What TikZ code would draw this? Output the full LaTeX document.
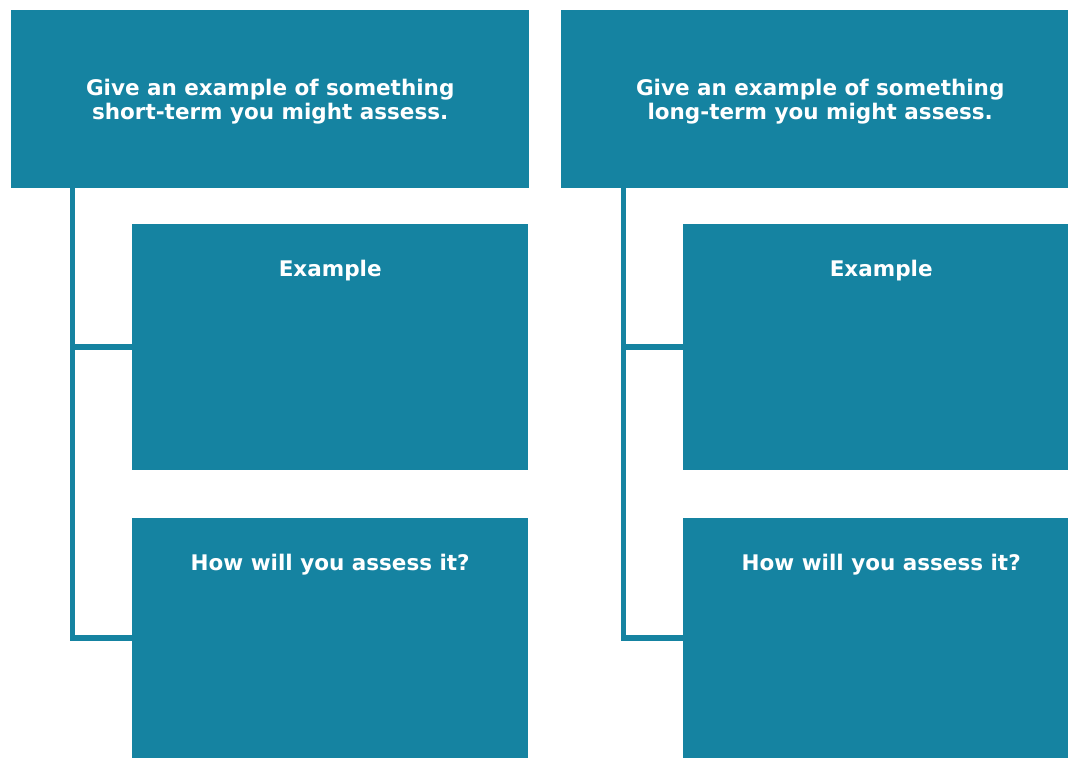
\documentclass[tikz,border=0pt]{standalone}
\usepackage{fontspec}
\setmainfont{DejaVu Sans}
\definecolor{tealblue}{RGB}{21,131,161}
\begin{document}
\begin{tikzpicture}[x=1pt,y=-1pt,
  box/.style={fill=tealblue, inner sep=0pt, anchor=north west, text=white,
    font=\fontsize{21.5}{24}\selectfont\bfseries, align=center},
  topbox/.style={box, minimum width=518pt, minimum height=178pt},
  subbox/.style={box, minimum width=396pt},
  boxtitle/.style={below, text=white, font=\fontsize{21.5}{24}\selectfont\bfseries, inner sep=0pt},
  link/.style={draw=tealblue, line width=5.5pt}]
\useasboundingbox (0,0) rectangle (1068,759);
\clip (0,0) rectangle (1068,759);
% short-term column
\node[topbox, text depth=-6pt] (lTop) at (11,10) {Give an example of something\\short-term you might assess.};
\node[subbox, minimum height=246pt] (lEx) at (132,224) {};
\node[subbox, minimum height=240pt] (lHow) at (132,518) {};
\node[boxtitle] (lExT) at ([yshift=-36]lEx.north) {Example};
\node[boxtitle] (lHowT) at ([yshift=-36]lHow.north) {How will you assess it?};
\draw[link] ([xshift=61.5]lTop.south west) |- (lEx.west);
\draw[link] ([xshift=61.5]lTop.south west) |- (lHow.west);
% long-term column
\node[topbox, text depth=-6pt] (rTop) at (561,10) {Give an example of something\\long-term you might assess.};
\node[subbox, minimum height=246pt] (rEx) at (683,224) {};
\node[subbox, minimum height=240pt] (rHow) at (683,518) {};
\node[boxtitle] (rExT) at ([yshift=-36]rEx.north) {Example};
\node[boxtitle] (rHowT) at ([yshift=-36]rHow.north) {How will you assess it?};
\draw[link] ([xshift=62.5]rTop.south west) |- (rEx.west);
\draw[link] ([xshift=62.5]rTop.south west) |- (rHow.west);
\end{tikzpicture}
\end{document}
